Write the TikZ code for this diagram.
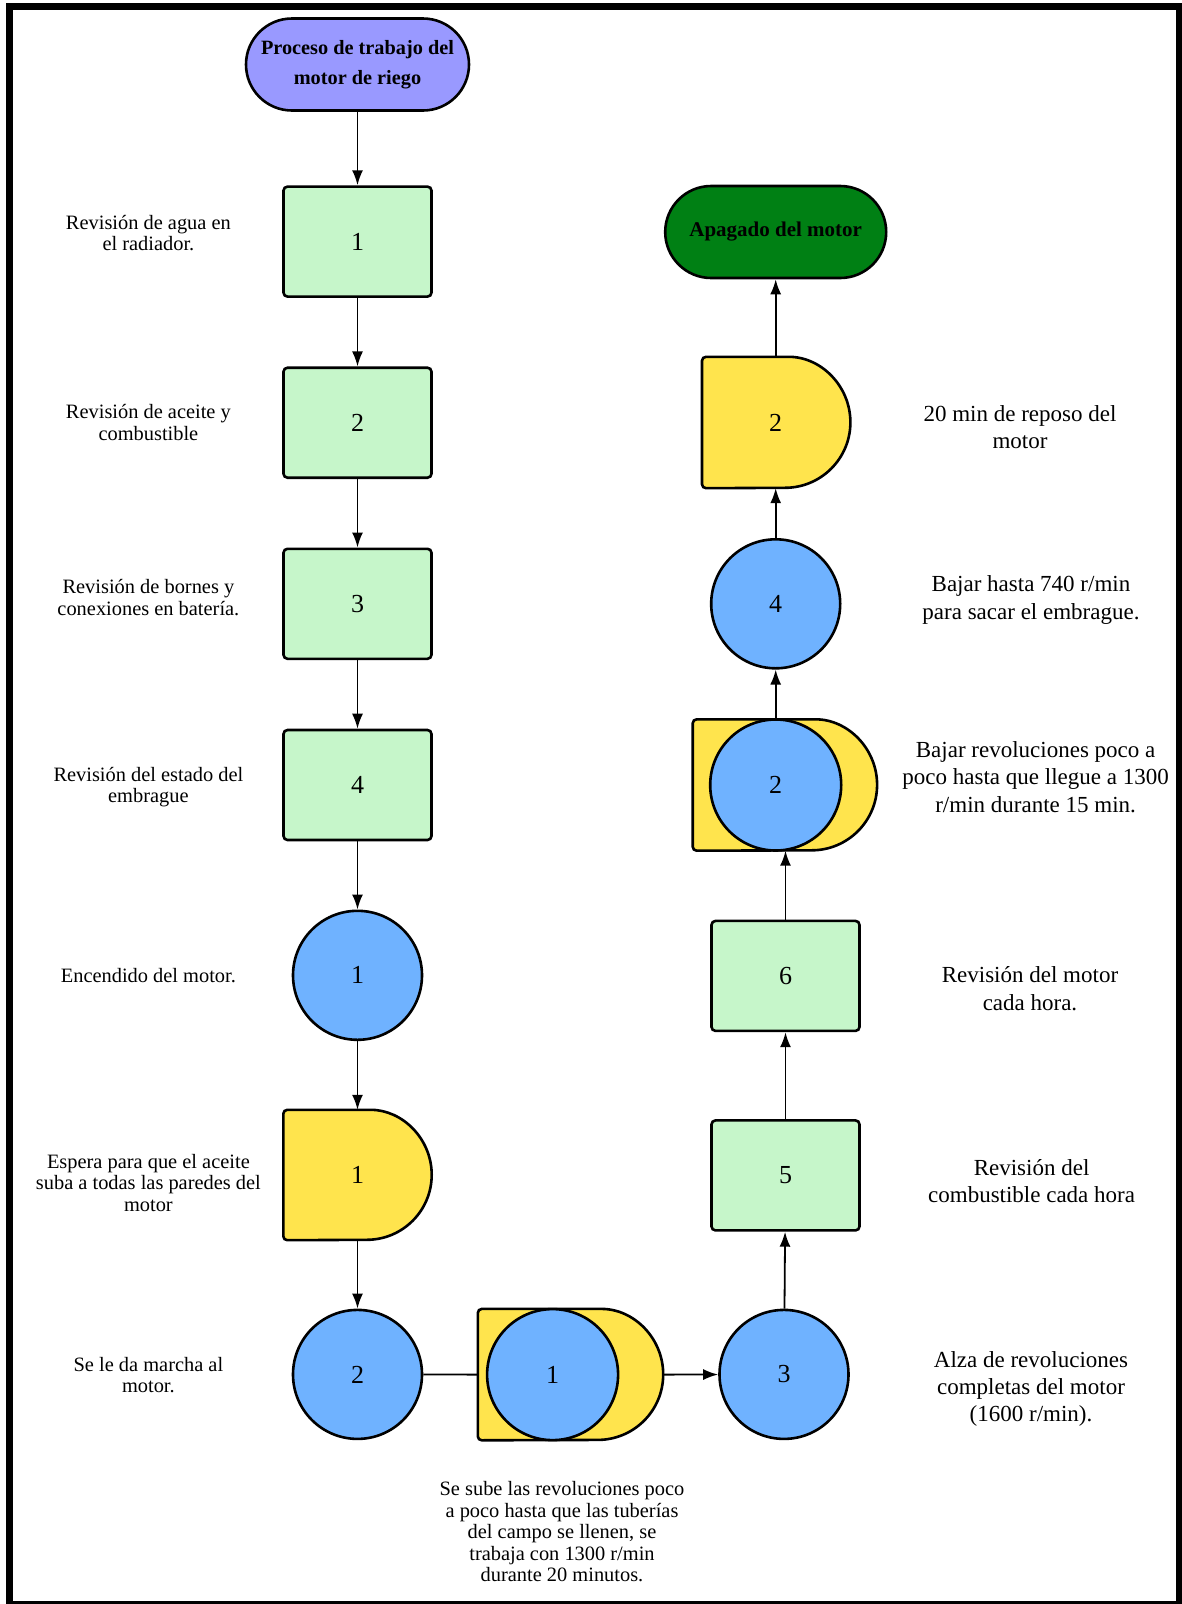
\documentclass[tikz,border=0pt]{standalone}
\usepackage{fontspec}
\setmainfont{Liberation Serif}
\usetikzlibrary{arrows.meta}
\pgfdeclarelayer{frame}
\pgfdeclarelayer{background}
\pgfsetlayers{frame,background,main}
\definecolor{termpurple}{RGB}{153,153,255}
\definecolor{termgreen}{RGB}{0,128,20}
\definecolor{procgreen}{RGB}{198,246,202}
\definecolor{circblue}{RGB}{111,178,255}
\definecolor{dyellow}{RGB}{255,228,77}
\tikzset{
  shapeline/.style={draw=black, line width=2.6pt},
  term/.style={shapeline, rectangle, rounded corners=46pt, minimum width=223pt, minimum height=92pt, align=center, font=\fontsize{20.3}{29.5}\selectfont\bfseries},
  numfont/.style={font=\fontsize{26}{30}\selectfont},
  proc/.style={shapeline, rectangle, rounded corners=4pt, fill=procgreen, minimum width=148pt, minimum height=110pt, numfont},
  circ/.style={shapeline, circle, fill=circblue, minimum size=129pt, inner sep=0pt, numfont},
  dbox/.style={rectangle, inner sep=0pt, numfont},
  ltext/.style={align=center, font=\fontsize{20.4}{21.5}\selectfont},
  rtext/.style={align=center, font=\fontsize{23}{27.3}\selectfont},
  arr/.style={line width=1.8pt, -{Latex[length=15pt,width=11pt]}},
  conn/.style={line width=1.8pt},
}
\newcommand\drawdelay[2]{%
  \begin{pgfonlayer}{background}
  \draw[shapeline, fill=dyellow, rounded corners=4pt] (#1.north west) -- ([xshift=-#2]#1.north east) {[sharp corners] arc[start angle=90,end angle=-90,radius=#2]} -- (#1.south west) -- cycle;
  \end{pgfonlayer}}
\begin{document}
\begin{tikzpicture}[x=1pt,y=-1pt]
\useasboundingbox (0,0) rectangle (1182,1604);
\begin{pgfonlayer}{frame}
\fill[black] (6,3) rectangle (1182,1604);
\fill[white] (13,10) rectangle (1176,1601);
\end{pgfonlayer}

% left column
\node[term, fill=termpurple] (start) at (357.5,64.5) {Proceso de trabajo del\\motor de riego};
\node[proc] (p1) at (357.5,241.6) {1};
\node[proc] (p2) at (357.5,422.7) {2};
\node[proc] (p3) at (357.5,603.8) {3};
\node[proc] (p4) at (357.5,785) {4};
\node[circ] (c1) at (357.5,975.3) {1};
\node[dbox, minimum width=148pt, minimum height=130pt] (d1) at (357.5,1175) {1};
\drawdelay{d1}{65pt}
\node[circ] (c2) at (357.5,1374.4) {2};

% bottom row
\node[dbox, minimum width=185pt, minimum height=131pt] (k1) at (570.5,1374.6) {};
\drawdelay{k1}{65.5pt}
\node[circ, minimum size=131pt] (k1c) at (552.6,1374.6) {1};
\node[circ] (c3) at (784,1374.4) {3};

% right column
\node[proc] (p5) at (785.5,1175.4) {5};
\node[proc] (p6) at (785.5,975.9) {6};
\node[dbox, minimum width=184pt, minimum height=131pt] (k2) at (784.9,785) {};
\drawdelay{k2}{65.5pt}
\node[circ, minimum size=131pt] (k2c) at (775.7,785) {2};
\node[circ] (c4) at (775.7,603.8) {4};
\node[dbox, minimum width=148pt, minimum height=131pt] (d2) at (776.2,422.5) {};
\drawdelay{d2}{65.5pt}
\node[numfont] (d2t) at (775.7,422.5) {2};
\node[term, fill=termgreen, minimum width=221pt, font=\fontsize{21}{24}\selectfont\bfseries] (end) at (775.7,232) {Apagado del motor};

% connectors
\draw[arr] (start) -- (p1);
\draw[arr] (p1) -- (p2);
\draw[arr] (p2) -- (p3);
\draw[arr] (p3) -- (p4);
\draw[arr] (p4) -- (c1);
\draw[arr] (c1) -- (d1);
\draw[arr] (d1) -- (c2);
\draw[conn] (c2) -- (k1.west);
\draw[arr] (k1.east) -- (c3);
\draw[arr] (c3) -- (p5);
\draw[arr] (p5) -- (p6);
\draw[arr] (p6.north) -- (p6.north |- k2.south);
\draw[arr] (k2c) -- (c4);
\draw[arr] (c4) -- (c4 |- d2.south);
\draw[arr] (c4 |- d2.north) -- (end);

% left texts
\node[ltext] (t1) at (148.4,232.8) {Revisión de agua en\\el radiador.};
\node[ltext] (t2) at (148.4,422.7) {Revisión de aceite y\\combustible};
\node[ltext] (t3) at (148.4,597.7) {Revisión de bornes y\\conexiones en batería.};
\node[ltext] (t4) at (148.4,787) {Revisión del estado del\\embrague};
\node[ltext] (t5) at (148.4,976) {Encendido del motor.};
\node[ltext] (t6) at (148.4,1183) {Espera para que el aceite\\suba a todas las paredes del\\motor};
\node[ltext] (t7) at (148.4,1375) {Se le da marcha al\\motor.};
\node[ltext] (t8) at (562,1532) {Se sube las revoluciones poco\\a poco hasta que las tuberías\\del campo se llenen, se\\trabaja con 1300 r/min\\durante 20 minutos.};

% right texts
\node[rtext] (r1) at (1020,427) {20 min de reposo del\\motor};
\node[rtext] (r2) at (1031,600) {Bajar hasta 740 r/min\\para sacar el embrague.};
\node[rtext] (r3) at (1035.6,777) {Bajar revoluciones poco a\\poco hasta que llegue a 1300\\r/min durante 15 min.};
\node[rtext] (r4) at (1030,988.6) {Revisión del motor\\cada hora.};
\node[rtext] (r5) at (1031.6,1181) {Revisión del\\combustible cada hora};
\node[rtext] (r6) at (1031,1389) {Alza de revoluciones\\completas del motor\\(1600 r/min).};
\end{tikzpicture}
\end{document}
